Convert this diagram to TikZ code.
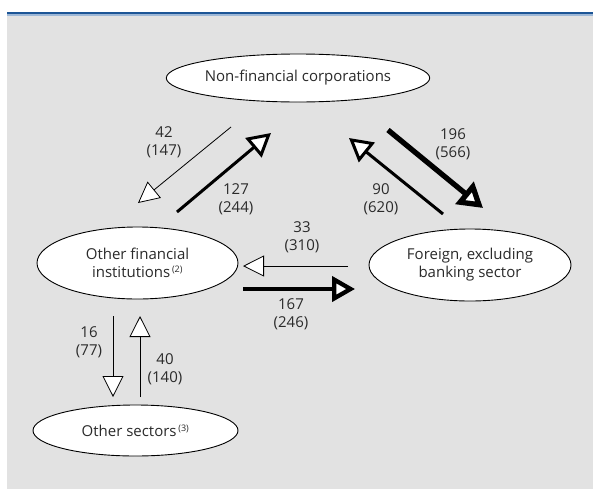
\documentclass[tikz,border=0pt]{standalone}
\usepackage{fontspec}
\setmainfont{Open Sans}
\usetikzlibrary{arrows.meta,shapes.geometric}
\definecolor{bggray}{HTML}{E2E2E2}
\definecolor{rulblue}{HTML}{1C5596}
\definecolor{rullight}{HTML}{9DB7D6}
\definecolor{txt}{HTML}{2A2A2A}
\tikzset{
  sector/.style={ellipse, draw=black, fill=white, line width=0.9pt, inner sep=0pt, text=txt, align=center, font=\fontsize{15}{18}\selectfont},
  lbl/.style={text=txt, align=center, font=\fontsize{15}{18}\selectfont, inner sep=0pt},
  flow/.style={draw=black, -{Triangle[fill=white, length=21pt, width=21pt]}},
  flowthick/.style={draw=black, -{Triangle[fill=white, length=23pt, width=25pt]}},
  flowheavy/.style={draw=black, -{Triangle[fill=white, length=24pt, width=28pt]}},
}
\newcommand{\supr}[1]{\textsuperscript{\,\fontsize{9}{9}\selectfont #1}}
\begin{document}
\begin{tikzpicture}[x=1pt,y=-1pt]
\useasboundingbox (0,0) rectangle (593,490);
\fill[bggray] (7,15.5) rectangle (593,489);
\fill[rulblue] (7,11.8) rectangle (593,14.4);
\fill[rullight] (7,14.4) rectangle (593,15.6);

\node[sector, minimum width=223, minimum height=48] (nfc) at (298,78) {Non-financial corporations};
\node[sector, minimum width=201, minimum height=72] (ofi) at (137.5,263) {Other financial\\institutions\supr{(2)}};
\node[sector, minimum width=202, minimum height=72] (for) at (470,265) {Foreign, excluding\\banking sector};
\node[sector, minimum width=205, minimum height=51] (oth) at (135.5,430.5) {Other sectors\supr{(3)}};

% arrow end points
\coordinate (a1s) at (231,127); \coordinate (a1e) at (138,203);
\coordinate (a2s) at (177,212); \coordinate (a2e) at (271,133);
\coordinate (a3s) at (443,214); \coordinate (a3e) at (349,138);
\coordinate (a4s) at (388,130); \coordinate (a4e) at (483,208);
\coordinate (a5s) at (348,266); \coordinate (a5e) at (243,266);
\coordinate (a6s) at (243,289); \coordinate (a6e) at (355,289);
\coordinate (a7s) at (113,316); \coordinate (a7e) at (113,397);
\coordinate (a8s) at (140,397); \coordinate (a8e) at (140,316);

\draw[flow, line width=0.8pt] (a1s) -- (a1e);
\draw[flowthick, line width=3pt] (a2s) -- (a2e);
\draw[flowthick, line width=3pt] (a3s) -- (a3e);
\draw[flowheavy, line width=5.3pt] (a4s) -- (a4e);
\draw[flow, line width=0.8pt] (a5s) -- (a5e);
\draw[flowthick, line width=4.3pt] (a6s) -- (a6e);
\draw[flow, line width=0.8pt] (a7s) -- (a7e);
\draw[flow, line width=0.8pt] (a8s) -- (a8e);

\node[lbl] (l1) at (164,142) {42\\(147)};
\node[lbl] (l2) at (236,199) {127\\(244)};
\node[lbl] (l3) at (381,199) {90\\(620)};
\node[lbl] (l4) at (453,144) {196\\(566)};
\node[lbl] (l5) at (302,237) {33\\(310)};
\node[lbl] (l6) at (291,314) {167\\(246)};
\node[lbl] (l7) at (89,342) {16\\(77)};
\node[lbl] (l8) at (165,369) {40\\(140)};
\end{tikzpicture}
\end{document}
